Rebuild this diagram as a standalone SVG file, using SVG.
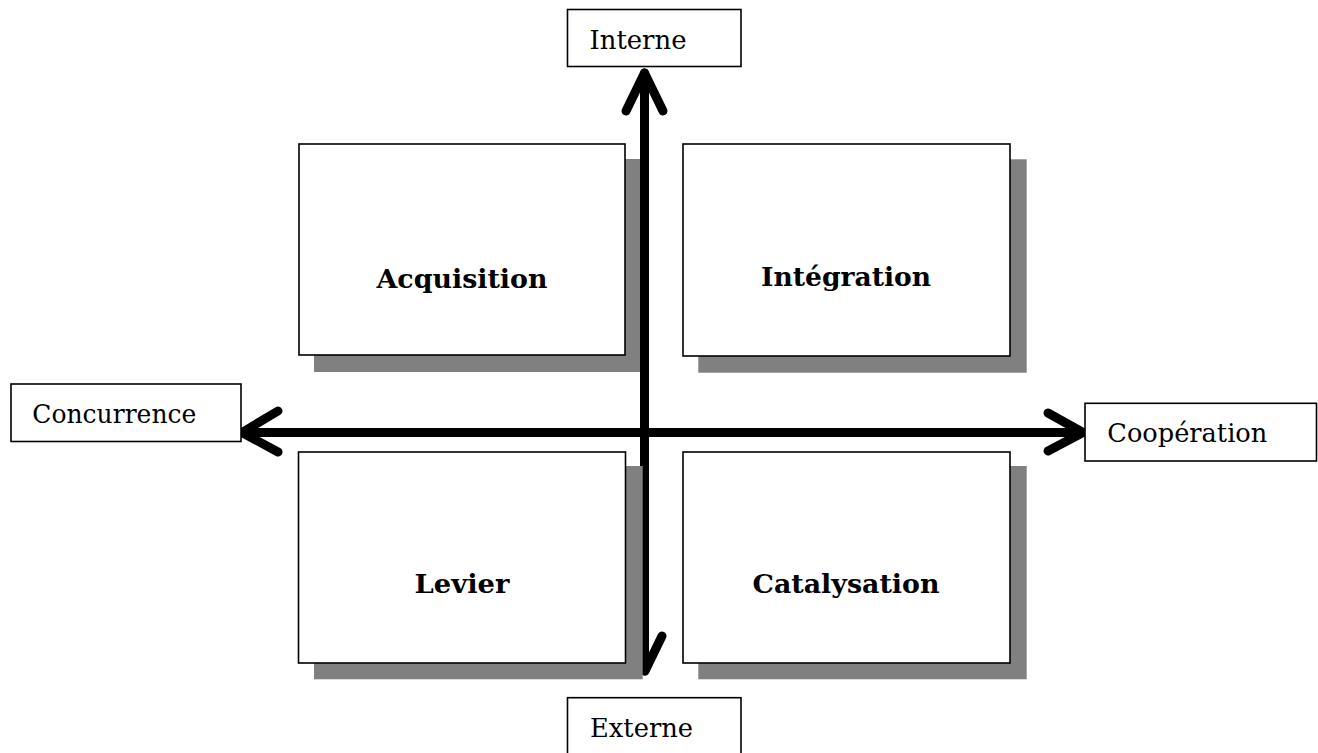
<svg xmlns="http://www.w3.org/2000/svg" width="1318" height="753" viewBox="0 0 1318 753">
  <style>
    .shadow { fill: #808080; stroke: none; }
    .box { fill: #ffffff; stroke: #000000; stroke-width: 1.6; }
    .axis { fill: none; stroke: #000000; stroke-width: 9; stroke-linecap: round; stroke-linejoin: round; }
    .title { font-family: "DejaVu Serif", "Liberation Serif", serif; font-weight: bold; font-size: 26px; fill: #000000; text-anchor: middle; }
    .pole { font-family: "DejaVu Serif", "Liberation Serif", serif; font-size: 26px; fill: #000000; }
  </style>
  <rect width="1318" height="753" fill="#ffffff"/>

  <!-- axes: drawn first so the quadrant shadows sit on top of them -->
  <g id="connectors">
    <!-- vertical axis: Interne (top) to Externe (bottom) -->
    <path class="axis" d="M644.5,73 L644.5,671"/>
    <path class="axis" d="M626,111 L644.5,73 L663,111"/>
    <path class="axis" d="M627,636 L645,671 L662,636"/>
    <!-- horizontal axis: Concurrence (left) to Coopération (right) -->
    <path class="axis" d="M242,432.5 L1083,432.5"/>
    <path class="axis" d="M278,411 L242,432.5 L278,452"/>
    <path class="axis" d="M1048,413 L1083,432.5 L1048,451"/>
  </g>

  <!-- quadrants -->
  <g id="acquisition">
    <rect class="shadow" x="314" y="159" width="326" height="213"/>
    <rect class="box" x="299" y="144" width="326" height="211"/>
    <text class="title" x="462" y="288" textLength="171" lengthAdjust="spacingAndGlyphs">Acquisition</text>
  </g>
  <g id="integration">
    <rect class="shadow" x="698.3" y="159.3" width="328.4" height="213.4"/>
    <rect class="box" x="683" y="144" width="327" height="212"/>
    <text class="title" x="846" y="286" textLength="170" lengthAdjust="spacingAndGlyphs">Intégration</text>
  </g>
  <g id="levier">
    <rect class="shadow" x="314" y="466" width="328.7" height="213.3"/>
    <rect class="box" x="298.5" y="452" width="327" height="211"/>
    <text class="title" x="462" y="592.7" textLength="95" lengthAdjust="spacingAndGlyphs">Levier</text>
  </g>
  <g id="catalysation">
    <rect class="shadow" x="698.3" y="466" width="328.4" height="213.3"/>
    <rect class="box" x="683" y="452" width="327" height="211"/>
    <text class="title" x="846" y="592.7" textLength="187" lengthAdjust="spacingAndGlyphs">Catalysation</text>
  </g>

  <!-- axis poles -->
  <g id="interne">
    <rect class="box" x="567.5" y="9.5" width="173.5" height="57"/>
    <text class="pole" x="589.5" y="49.3" textLength="97" lengthAdjust="spacingAndGlyphs">Interne</text>
  </g>
  <g id="externe">
    <rect class="box" x="567.5" y="697.7" width="173.5" height="58"/>
    <text class="pole" x="590" y="736.5" textLength="103" lengthAdjust="spacingAndGlyphs">Externe</text>
  </g>
  <g id="concurrence">
    <rect class="box" x="11" y="384" width="230" height="57.5"/>
    <text class="pole" x="32.3" y="423.3" textLength="164" lengthAdjust="spacingAndGlyphs">Concurrence</text>
  </g>
  <g id="cooperation">
    <rect class="box" x="1085" y="403.3" width="231.5" height="57.7"/>
    <text class="pole" x="1107.3" y="441.7" textLength="160" lengthAdjust="spacingAndGlyphs">Coopération</text>
  </g>
</svg>
